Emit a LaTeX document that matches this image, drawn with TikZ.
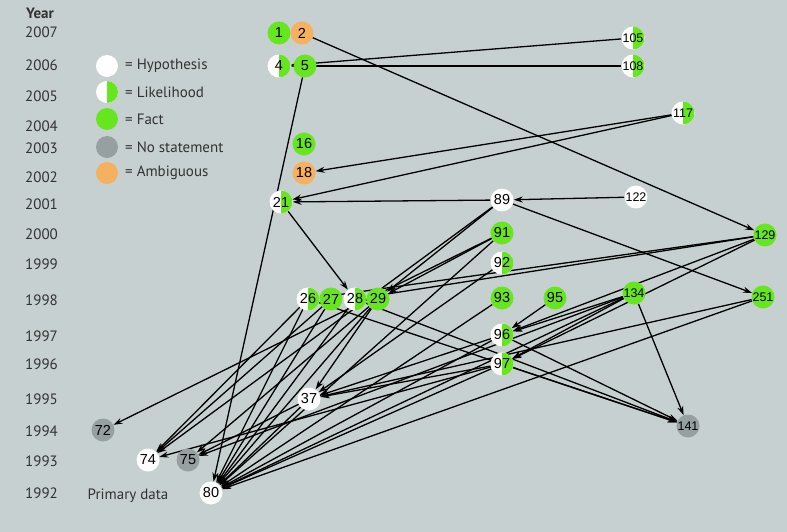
\documentclass[tikz,border=0pt]{standalone}
\usepackage{fontspec}
\setmainfont{PT Sans}
\newfontfamily\numfont{Liberation Sans}
\usetikzlibrary{arrows.meta}
\pgfdeclarelayer{bg}
\pgfdeclarelayer{edges}
\pgfsetlayers{bg,edges,main}
\definecolor{bgc}{RGB}{199,208,208}
\definecolor{fgreen}{RGB}{102,230,30}
\definecolor{amb}{RGB}{245,176,96}
\definecolor{nost}{RGB}{150,160,160}
\definecolor{txt}{RGB}{50,50,50}
\begin{document}
\begin{tikzpicture}[x=1pt,y=-1pt,
 nd/.style={circle,minimum size=23pt,inner sep=0pt,font=\numfont\fontsize{14.5}{14.5}\selectfont,text=black},
 hyp/.style={nd,fill=white},
 fact/.style={nd,fill=fgreen},
 lik/.style={nd,fill=white,path picture={\fill[fgreen] (path picture bounding box.north) rectangle (path picture bounding box.south east);}},
 nostat/.style={nd,fill=nost},
 ambi/.style={nd,fill=amb},
 smallnum/.style={font=\numfont\fontsize{12.5}{12.5}\selectfont},
 yr/.style={anchor=west,inner sep=0pt,font=\fontsize{15}{15}\selectfont,text=txt},
 lg/.style={anchor=west,inner sep=0pt,font=\fontsize{15}{15}\selectfont,text=txt},
 arr/.style={-{Stealth[length=9pt,width=6pt]},line width=1.3pt,black},
]
\useasboundingbox (0,0) rectangle (787,532);
\begin{pgfonlayer}{bg}
\fill[bgc] (0,0) rectangle (787,532);
\end{pgfonlayer}

% year axis
\node[yr,font=\bfseries\fontsize{15}{15}\selectfont] (year) at (26,13) {Year};
\foreach \y/\v in {2007/32,2006/65,2005/96,2004/126,2003/148,2002/177,2001/204,2000/234,1999/264,1998/300,1997/336,1996/364,1995/399,1994/431,1993/461,1992/493}
  \node[yr] (y\y) at (25,\v) {\y};

% legend
\node[hyp,minimum size=22pt] (lh) at (107,66) {};
\node[lik,minimum size=22pt] (ll) at (107,92) {};
\node[fact,minimum size=22pt] (lf) at (107,119) {};
\node[nostat,minimum size=22pt] (ln) at (107,147) {};
\node[ambi,minimum size=22pt] (la) at (107,173) {};
\node[lg] (th) at (125,66) {= Hypothesis};
\node[lg] (tl) at (125,92) {= Likelihood};
\node[lg] (tf) at (125,119) {= Fact};
\node[lg] (tn) at (125,147) {= No statement};
\node[lg] (ta) at (125,173) {= Ambiguous};
\node[lg,anchor=center] (pd) at (128,496) {Primary data};

% nodes
\node[fact] (n1) at (279,33) {1};
\node[ambi] (n2) at (302,33) {2};
\node[lik] (n4) at (279,66) {4};
\node[fact] (n5) at (305,66) {5};
\node[lik,smallnum] (n105) at (633,38) {105};
\node[lik,smallnum] (n108) at (633,66) {108};
\node[lik,smallnum] (n117) at (683,113) {117};
\node[fact] (n16) at (304,144) {16};
\node[ambi] (n18) at (304,173) {18};
\node[lik] (n21) at (281,202) {21};
\node[hyp] (n89) at (502,200) {89};
\node[hyp,smallnum] (n122) at (636,197) {122};
\node[fact] (n91) at (502,233) {91};
\node[fact,smallnum] (n129) at (765,235) {129};
\node[lik] (n92) at (502,263) {92};
\node[lik] (n26) at (308,299) {26};
\node[fact] (n27) at (331,299) {27};
\node[lik] (n28) at (355,299) {28};
\node[fact] (n29) at (378,299) {29};
\node[fact] (n93) at (502,298) {93};
\node[fact] (n95) at (555,298) {95};
\node[fact,smallnum] (n134) at (634,293) {134};
\node[fact,smallnum] (n251) at (763,297) {251};
\node[lik] (n96) at (502,335) {96};
\node[lik] (n97) at (502,364) {97};
\node[hyp] (n37) at (309,399) {37};
\node[nostat] (n72) at (103,430) {72};
\node[nostat,smallnum] (n141) at (688,426) {141};
\node[hyp] (n74) at (148,460) {74};
\node[nostat] (n75) at (188,460) {75};
\node[hyp] (n80) at (211,493) {80};

% connectors
\begin{pgfonlayer}{edges}
\foreach \a/\b in {2/129, 105/4, 108/4, 5/80, 117/18, 117/21, 122/89, 89/21, 89/251, 21/28,
  89/29, 89/74, 91/29, 91/80, 91/72, 129/26, 129/28, 129/96, 129/97, 95/96, 93/80,
  134/96, 134/97, 134/141, 251/37, 251/80, 26/141, 28/141, 97/141, 96/141,
  26/74, 27/74, 26/80, 27/80, 28/80, 29/37, 29/75, 29/80, 37/80, 96/37, 97/37,
  97/80, 97/74, 134/75, 134/80, 96/80, 92/37, 37/75}
  \draw[arr] (n\a) -- (n\b);
\end{pgfonlayer}
\end{tikzpicture}
\end{document}
